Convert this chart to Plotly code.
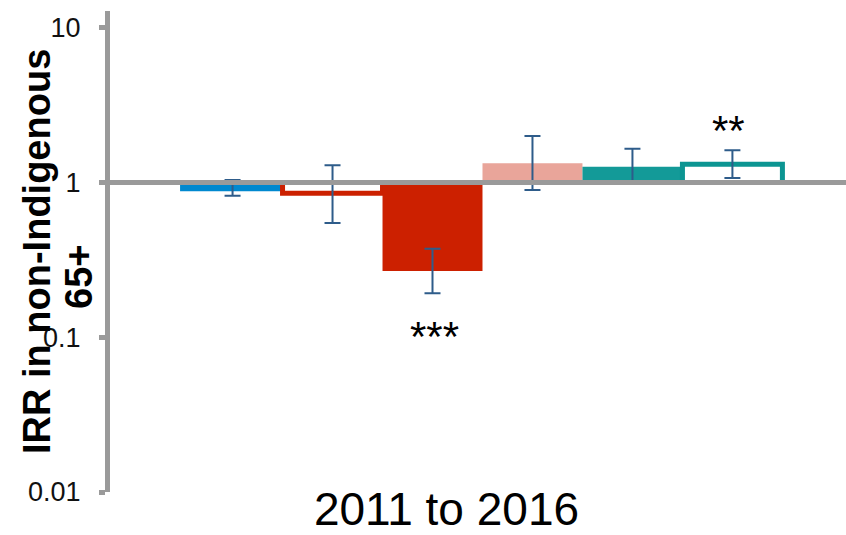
import math
import plotly.graph_objects as go

# Incidence rate ratios (IRR) for one period, six comparison groups
category = "2011 to 2016"
series_names = ["Group 1", "Group 2", "Group 3", "Group 4", "Group 5", "Group 6"]
irr = [0.91, 0.85, 0.268, 1.33, 1.26, 1.31]
ci_low = [0.82, 0.546, 0.192, 0.892, 0.98, 1.066]
ci_high = [1.035, 1.29, 0.373, 1.99, 1.65, 1.61]
significance = ["", "", "***", "", "", "**"]

fill_colors = ["#0088CF", "#FFFFFF", "#CC2000", "#E9A59A", "#139A98", "#FFFFFF"]
edge_colors = ["#0088CF", "#CC2000", "#CC2000", "#E9A59A", "#139A98", "#0C9592"]
edge_widths = [5, 5, 0, 0, 0, 5]

y_tick_vals = [0.01, 0.1, 1, 10]
y_tick_text = ["0.01", "0.1", "1", "10"]

FONT = "Liberation Sans, Arial, sans-serif"
AXIS_GREY = "#9A9A9A"
ERR_COLOR = "#2E5C8A"
BAR_GAP = 0.185

fig = go.Figure()
for i, name in enumerate(series_names):
    fig.add_trace(go.Bar(
        name=name,
        x=[category],
        y=[irr[i] - 1],
        base=[1],
        marker=dict(color=fill_colors[i],
                    line=dict(color=edge_colors[i], width=edge_widths[i])),
        error_y=dict(type="data", symmetric=False,
                     array=[ci_high[i] - irr[i]],
                     arrayminus=[irr[i] - ci_low[i]],
                     color=ERR_COLOR, thickness=2, width=8),
        showlegend=False,
        hoverinfo="skip",
    ))

# significance stars next to the confidence intervals
n = len(series_names)
slot = (1 - BAR_GAP) / n
annotations = []
for i, stars in enumerate(significance):
    if not stars:
        continue
    xpos = (i - (n - 1) / 2) * slot
    if irr[i] < 1:
        annotations.append(dict(x=xpos, y=math.log10(ci_low[i]), xref="x", yref="y",
                                text=stars, showarrow=False, yanchor="top", yshift=-18,
                                xshift=2,
                                font=dict(family=FONT, size=42, color="#000000")))
    else:
        annotations.append(dict(x=xpos, y=math.log10(ci_high[i]), xref="x", yref="y",
                                text=stars, showarrow=False, yanchor="bottom", yshift=-6,
                                xshift=-4,
                                font=dict(family=FONT, size=42, color="#000000")))

# y-axis title in two lines
annotations.append(dict(x=37, y=252, xref="paper", yref="paper", text="<b>IRR in non-Indigenous</b>",
                        textangle=-90, showarrow=False, xanchor="center", yanchor="middle",
                        font=dict(family=FONT, size=38, color="#000000")))
annotations.append(dict(x=79, y=277, xref="paper", yref="paper", text="<b>65+</b>",
                        textangle=-90, showarrow=False, xanchor="center", yanchor="middle",
                        font=dict(family=FONT, size=38, color="#000000")))

W, H = 846, 535
ML, MR, MT, MB = 110, 0, 11, 43
pw, ph = W - ML - MR, H - MT - MB
for a in annotations[-2:]:
    a["x"] = (a["x"] - ML) / pw
    a["y"] = 1 - (a["y"] - MT) / ph

fig.update_layout(
    width=W, height=H,
    margin=dict(l=ML, r=MR, t=MT, b=MB),
    paper_bgcolor="white", plot_bgcolor="white",
    barmode="group", bargap=BAR_GAP, bargroupgap=0,
    font=dict(family=FONT),
    annotations=annotations,
    shapes=[dict(type="line", xref="paper", x0=0, x1=1, yref="y", y0=1, y1=1,
                 line=dict(color=AXIS_GREY, width=5), layer="above")],
    xaxis=dict(type="category", range=[-0.5061, 0.4939], showline=False, showgrid=False,
               zeroline=False, ticks="", ticklabelshift=-36, ticklabelstandoff=-14,
               automargin=False,
               tickfont=dict(family=FONT, size=46, color="#000000")),
    yaxis=dict(type="log", range=[-2, 1.107], tickvals=y_tick_vals, ticktext=y_tick_text,
               showline=True, linewidth=5, linecolor=AXIS_GREY, showgrid=False, zeroline=False,
               ticks="outside", ticklen=6, tickwidth=5, tickcolor=AXIS_GREY, automargin=False,
               ticklabelstandoff=13,
               tickfont=dict(family=FONT, size=27, color="#111111")),
)

fig.write_html("out.html")
